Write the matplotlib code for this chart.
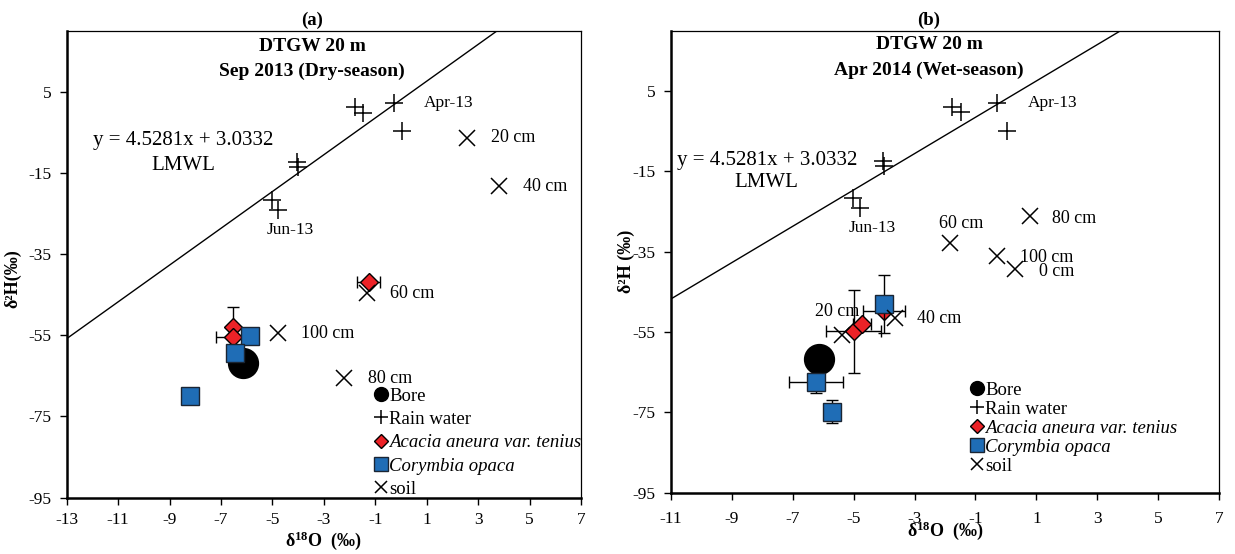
import numpy as np
import matplotlib.pyplot as plt
from matplotlib.lines import Line2D

plt.rcParams['font.family'] = ['Liberation Serif', 'DejaVu Serif']
plt.rcParams['mathtext.fontset'] = 'custom'
plt.rcParams['mathtext.rm'] = 'Liberation Serif'
plt.rcParams['mathtext.bf'] = 'Liberation Serif:bold'
plt.rcParams['mathtext.it'] = 'Liberation Serif:italic'
plt.rcParams['axes.unicode_minus'] = False

# local meteoric water line
lmwl_slope = 4.5281
lmwl_intercept = 3.0332

# rain water, same samples on both panels
rain_o = [-1.77, -1.49, -0.28, 0.04, -4.05, -4.00, -5.03, -4.80]
rain_h = [1.1, -0.2, 2.1, -4.8, -12.4, -13.6, -21.6, -24.1]

# (a) Sep 2013, dry season
bore_a_o = [-6.13]
bore_a_h = [-61.8]
acacia_a_o = [-1.26, -6.54, -6.54]
acacia_a_h = [-42.0, -53.0, -55.4]
acacia_a_xerr = [0.46, 0.0, 0.66]
acacia_a_yerr = [0.0, 4.9, 0.0]
corym_a_o = [-5.87, -6.44, -8.20]
corym_a_h = [-55.3, -59.4, -70.0]
soil_a_depth = ['20 cm', '40 cm', '60 cm', '100 cm', '80 cm']
soil_a_o = [2.57, 3.81, -1.34, -4.79, -2.20]
soil_a_h = [-6.4, -18.3, -44.7, -54.5, -65.6]

# (b) Apr 2014, wet season
bore_b_o = [-6.13]
bore_b_h = [-61.8]
acacia_b_o = [-5.00, -4.73, -4.00]
acacia_b_h = [-54.8, -53.1, -49.8]
acacia_b_xerr = [0.9, 0.3, 0.7]
acacia_b_yerr = [10.4, 0.0, 0.0]
corym_b_o = [-4.00, -6.24, -5.71]
corym_b_h = [-48.0, -67.4, -74.8]
corym_b_xerr = [0.0, 0.89, 0.0]
corym_b_yerr = [7.2, 2.7, 2.9]
soil_b_depth = ['0 cm', '20 cm', '40 cm', '60 cm', '80 cm', '100 cm']
soil_b_o = [0.30, -5.37, -3.65, -1.83, 0.79, -0.31]
soil_b_h = [-39.3, -55.7, -51.6, -32.7, -26.2, -36.0]

red = '#ec2227'
blue = '#1f6db6'

fig = plt.figure(figsize=(12.35, 5.54), dpi=100)
ax_a = fig.add_axes([0.054, 0.1016, 0.4164, 0.843])
ax_b = fig.add_axes([0.5431, 0.1107, 0.4442, 0.8334])


def draw_panel(ax, xmin, bore_o, bore_h, acacia_o, acacia_h, acacia_xerr, acacia_yerr,
               corym_o, corym_h, corym_xerr, corym_yerr, soil_o, soil_h, xpad):
    xs = np.array([xmin, 7])
    ax.plot(xs, lmwl_slope * xs + lmwl_intercept, color='black', lw=1.0, zorder=1)
    ax.plot(bore_o, bore_h, 'o', color='black', ms=21.5, zorder=2)
    ax.plot(rain_o, rain_h, '+', color='black', ms=13, mew=1.1, zorder=3)
    ax.errorbar(acacia_o, acacia_h, xerr=acacia_xerr, yerr=acacia_yerr, fmt='D',
                mfc=red, mec='black', mew=1.0, ms=9.5, ecolor='black', elinewidth=1,
                capsize=4, capthick=1, zorder=4)
    ax.errorbar(corym_o, corym_h, xerr=corym_xerr, yerr=corym_yerr, fmt='s',
                mfc=blue, mec='#1a2533', mew=1.0, ms=13, ecolor='black', elinewidth=1,
                capsize=4, capthick=1, zorder=5)
    ax.plot(soil_o, soil_h, 'x', color='black', ms=11, mew=1.1, zorder=6)

    ax.set_xlim(xmin, 7)
    ax.set_ylim(-95, 20)
    ax.set_xticks(np.arange(xmin, 8, 2))
    ax.set_yticks(np.arange(-95, 6, 20))
    ax.tick_params(direction='out', length=5, width=1, labelsize=12.5)
    ax.tick_params(axis='x', pad=xpad)
    ax.tick_params(axis='y', pad=6)
    for s in ['left', 'bottom']:
        ax.spines[s].set_linewidth(1.8)
    for s in ['top', 'right']:
        ax.spines[s].set_linewidth(0.9)

    # rain labels
    ax.annotate('Apr-13', (rain_o[2], rain_h[2]), xytext=(22, 0), textcoords='offset points',
                ha='left', va='center', fontsize=12.5)
    ax.annotate('Jun-13', (rain_o[7], rain_h[7]), xytext=(9, -14.5), textcoords='offset points',
                ha='center', va='center', fontsize=12.5)


def add_legend(ax, anchor, fs, spacing):
    handles = [
        Line2D([], [], ls='none', marker='o', color='black', ms=10),
        Line2D([], [], ls='none', marker='+', color='black', ms=10, mew=1.1),
        Line2D([], [], ls='none', marker='D', mfc=red, mec='black', ms=7),
        Line2D([], [], ls='none', marker='s', mfc=blue, mec='#1a2533', ms=10),
        Line2D([], [], ls='none', marker='x', color='black', ms=9, mew=1.1),
    ]
    labels = ['Bore', 'Rain water', 'Acacia aneura var. tenius', 'Corymbia opaca', 'soil']
    leg = ax.legend(handles, labels, loc='upper left', bbox_to_anchor=anchor, frameon=False,
                    fontsize=fs, handlelength=0.6, handletextpad=0.15, labelspacing=spacing,
                    borderpad=0, borderaxespad=0)
    leg.get_texts()[2].set_style('italic')
    leg.get_texts()[3].set_style('italic')


# panel (a)
draw_panel(ax_a, -13, bore_a_o, bore_a_h, acacia_a_o, acacia_a_h, acacia_a_xerr, acacia_a_yerr,
           corym_a_o, corym_a_h, [0, 0, 0], [0, 0, 0], soil_a_o, soil_a_h, 5)
for lab, xo, yh in zip(soil_a_depth, soil_a_o, soil_a_h):
    ax_a.annotate(lab, (xo, yh), xytext=(17, 0), textcoords='offset points',
                  ha='left', va='center', fontsize=13)
ax_a.text(-8.46, -7.1, 'y = 4.5281x + 3.0332', ha='center', va='center', fontsize=15)
ax_a.text(-8.46, -13.1, 'LMWL', ha='center', va='center', fontsize=15)
ax_a.text(0.477, 1.023, '(a)', transform=ax_a.transAxes, ha='center', va='center',
          fontsize=13.5, fontweight='bold')
ax_a.text(0.477, 0.966, 'DTGW 20 m', transform=ax_a.transAxes, ha='center', va='center',
          fontsize=14, fontweight='bold')
ax_a.text(0.477, 0.912, 'Sep 2013 (Dry-season)', transform=ax_a.transAxes, ha='center',
          va='center', fontsize=14, fontweight='bold')
ax_a.set_xlabel('δ$^{\\mathbf{18}}$O  (‰)', fontsize=13, fontweight='bold')
ax_a.set_ylabel('δ²H(‰)', fontsize=13, fontweight='bold')
ax_a.xaxis.set_label_coords(0.5, -0.069)
ax_a.yaxis.set_label_coords(-0.088, 0.47)
add_legend(ax_a, (0.6, 0.236), 13.5, 0.33)

# panel (b)
draw_panel(ax_b, -11, bore_b_o, bore_b_h, acacia_b_o, acacia_b_h, acacia_b_xerr, acacia_b_yerr,
           corym_b_o, corym_b_h, corym_b_xerr, corym_b_yerr, soil_b_o, soil_b_h, 8)
soil_b_offsets = [(17, -1.5), (-4, 17), (16, 0), (8, 13.5), (16, -1.5), (17, -1.5)]
soil_b_ha = ['left', 'center', 'left', 'center', 'left', 'left']
for lab, xo, yh, off, ha in zip(soil_b_depth, soil_b_o, soil_b_h, soil_b_offsets, soil_b_ha):
    ax_b.annotate(lab, (xo, yh), xytext=off, textcoords='offset points',
                  ha=ha, va='center', fontsize=13)
ax_b.text(-7.85, -12.2, 'y = 4.5281x + 3.0332', ha='center', va='center', fontsize=15)
ax_b.text(-7.85, -17.8, 'LMWL', ha='center', va='center', fontsize=15)
ax_b.text(0.471, 1.024, '(b)', transform=ax_b.transAxes, ha='center', va='center',
          fontsize=13.5, fontweight='bold')
ax_b.text(0.471, 0.971, 'DTGW 20 m', transform=ax_b.transAxes, ha='center', va='center',
          fontsize=14, fontweight='bold')
ax_b.text(0.471, 0.915, 'Apr 2014 (Wet-season)', transform=ax_b.transAxes, ha='center',
          va='center', fontsize=14, fontweight='bold')
ax_b.set_xlabel('δ$^{\\mathbf{18}}$O  (‰)', fontsize=13, fontweight='bold')
ax_b.set_ylabel('δ²H (‰)', fontsize=13, fontweight='bold')
ax_b.xaxis.set_label_coords(0.5, -0.058)
ax_b.yaxis.set_label_coords(-0.066, 0.5)
add_legend(ax_b, (0.548, 0.24), 13.5, 0.1)

fig.savefig('out.png', dpi=100)
